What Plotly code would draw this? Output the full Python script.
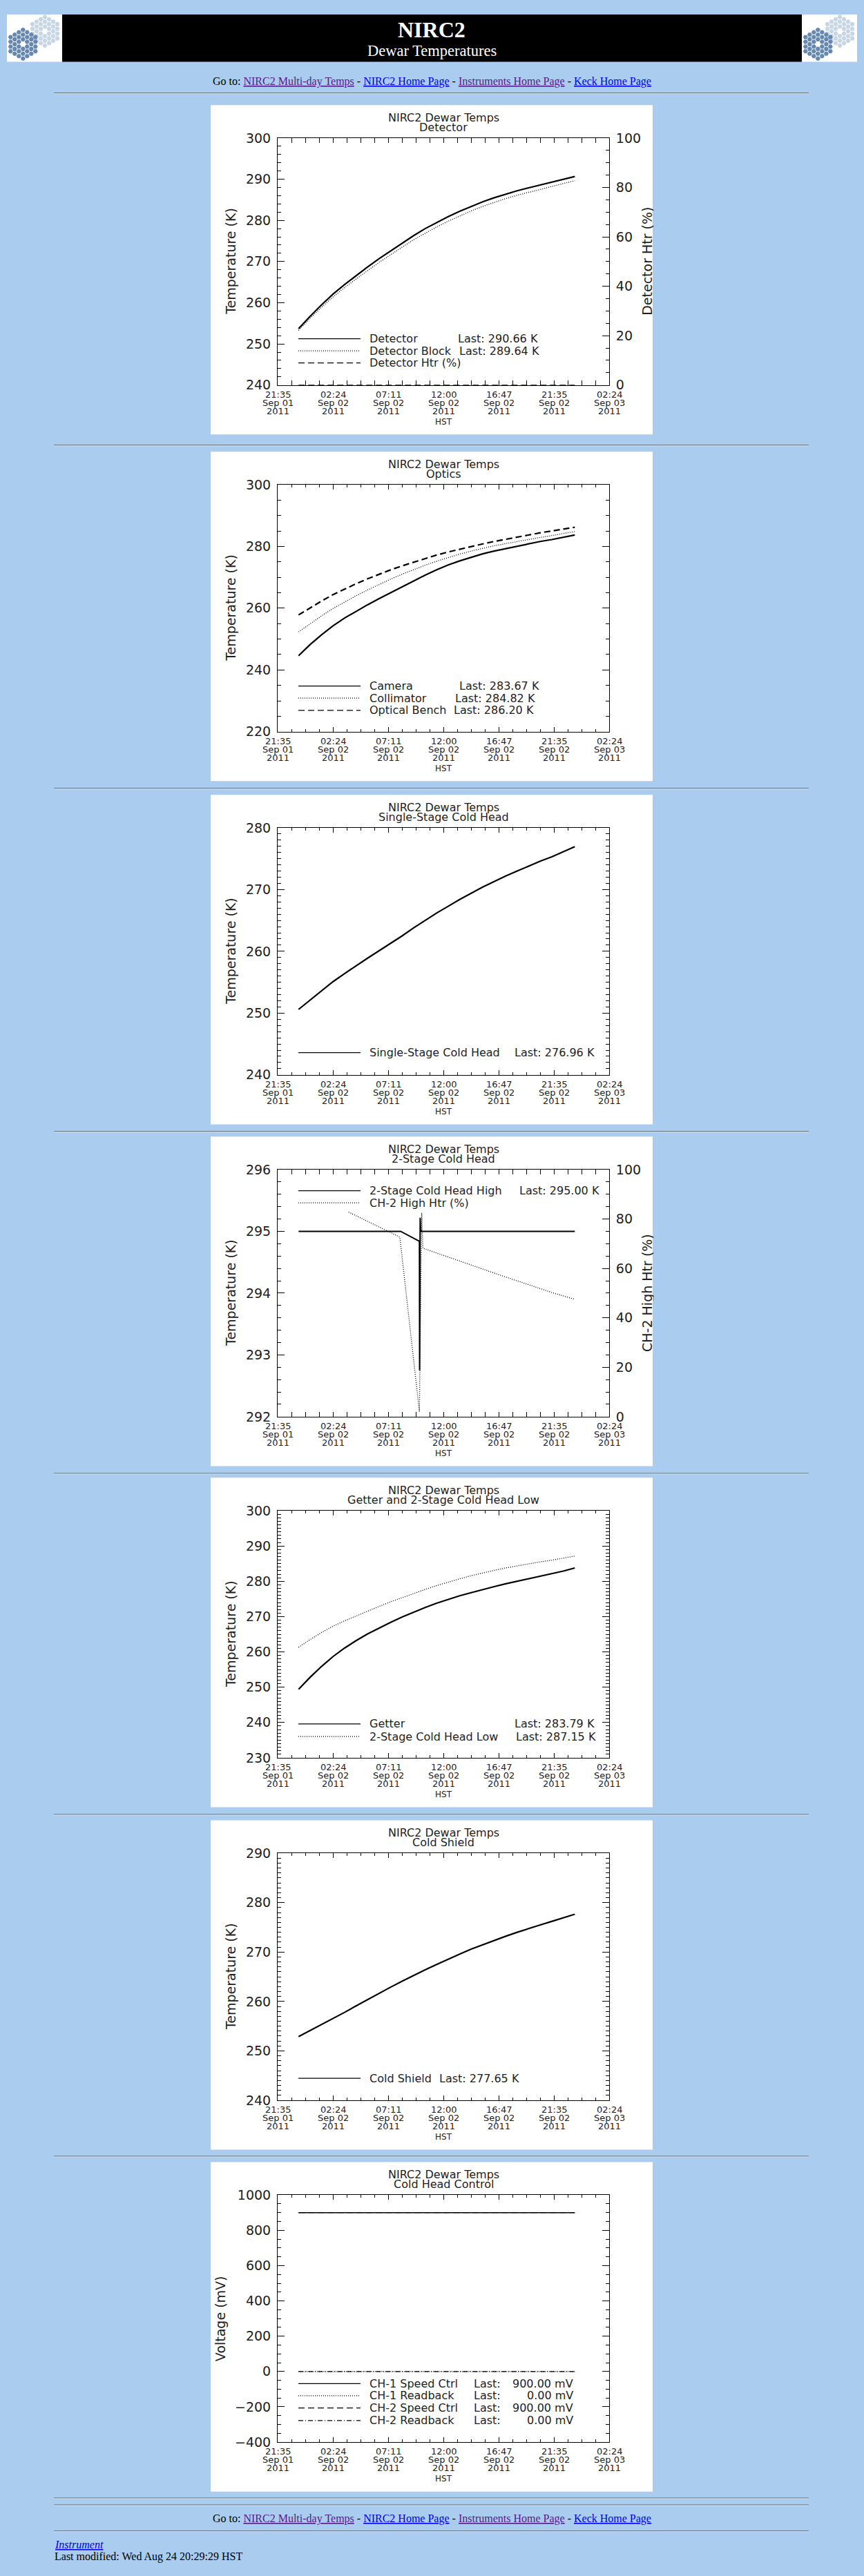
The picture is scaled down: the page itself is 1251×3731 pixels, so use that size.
import math
import plotly.graph_objects as go

W, H = 1251, 3731
PAGE_BG = "#AACCEE"
SANS = "DejaVu Sans"
SERIF = "Liberation Serif"
INK = "#1e1e1e"

# ---------------- data ----------------
TIMES = [
    "2011-09-01 23:24", "2011-09-02 00:24", "2011-09-02 01:24", "2011-09-02 02:24",
    "2011-09-02 03:24", "2011-09-02 04:24", "2011-09-02 05:24", "2011-09-02 06:24",
    "2011-09-02 07:24", "2011-09-02 08:24", "2011-09-02 09:24", "2011-09-02 10:24",
    "2011-09-02 11:24", "2011-09-02 12:24", "2011-09-02 13:24", "2011-09-02 14:24",
    "2011-09-02 15:24", "2011-09-02 16:24", "2011-09-02 17:24", "2011-09-02 18:24",
    "2011-09-02 19:24", "2011-09-02 20:24", "2011-09-02 21:24", "2011-09-02 22:24",
    "2011-09-02 23:24"]
TIMES_ENDS = ["2011-09-01 23:24", "2011-09-02 23:24"]

DETECTOR = [253.7, 256.7, 259.5, 262.1, 264.4, 266.6, 268.7, 270.7, 272.6, 274.5,
            276.3, 278.0, 279.5, 280.9, 282.2, 283.4, 284.5, 285.5, 286.4, 287.2,
            287.9, 288.6, 289.2, 289.9, 290.66]
DETECTOR_BLOCK = [253.3, 256.2, 258.9, 261.4, 263.7, 265.8, 267.8, 269.8, 271.7, 273.5,
                  275.3, 276.9, 278.4, 279.8, 281.1, 282.3, 283.4, 284.4, 285.3, 286.1,
                  286.8, 287.5, 288.2, 288.9, 289.64]
DETECTOR_HTR = [0.0, 0.0]

CAMERA = [244.6, 248.2, 251.4, 254.3, 256.8, 259.0, 261.1, 263.1, 265.0, 267.0,
          268.9, 270.7, 272.4, 274.0, 275.3, 276.5, 277.6, 278.5, 279.3, 280.1,
          280.9, 281.6, 282.2, 282.9, 283.67]
COLLIMATOR = [252.3, 255.0, 257.5, 259.9, 262.0, 264.0, 265.9, 267.7, 269.4, 271.0,
              272.5, 273.9, 275.2, 276.4, 277.5, 278.5, 279.4, 280.2, 280.9, 281.6,
              282.3, 282.9, 283.5, 284.1, 284.82]
OPTICAL_BENCH = [257.8, 260.1, 262.3, 264.4, 266.2, 267.9, 269.5, 271.0, 272.4, 273.7,
                 274.9, 276.1, 277.2, 278.2, 279.1, 280.0, 280.8, 281.6, 282.3, 283.1,
                 283.8, 284.4, 285.0, 285.6, 286.20]

SINGLE_STAGE = [250.6, 252.1, 253.6, 255.1, 256.4, 257.7, 258.9, 260.1, 261.3, 262.5,
                263.8, 265.0, 266.2, 267.3, 268.4, 269.4, 270.4, 271.3, 272.2, 273.0,
                273.8, 274.6, 275.3, 276.1, 276.96]

CH2_HIGH_TIMES = ["2011-09-01 23:24", "2011-09-02 08:16", "2011-09-02 09:54",
                  "2011-09-02 09:55", "2011-09-02 09:57", "2011-09-02 09:58",
                  "2011-09-02 10:00", "2011-09-02 10:04", "2011-09-02 23:24"]
CH2_HIGH = [295.00, 295.00, 294.84, 292.75, 294.62, 295.22, 295.03, 295.00, 295.00]
CH2_HTR_TIMES = ["2011-09-02 03:45", "2011-09-02 06:00", "2011-09-02 08:12",
                 "2011-09-02 09:54", "2011-09-02 10:06", "2011-09-02 10:12",
                 "2011-09-02 12:00", "2011-09-02 16:47", "2011-09-02 21:35",
                 "2011-09-02 23:24"]
CH2_HTR = [82.8, 77.7, 72.7, 2.0, 82.5, 68.2, 65.3, 57.5, 50.0, 47.5]

GETTER = [249.4, 252.8, 255.9, 258.7, 261.1, 263.2, 265.1, 266.8, 268.4, 269.9,
          271.3, 272.6, 273.8, 274.9, 275.9, 276.8, 277.7, 278.5, 279.3, 280.0,
          280.7, 281.4, 282.1, 282.9, 283.79]
CH2_LOW = [261.3, 263.5, 265.5, 267.3, 268.8, 270.2, 271.6, 272.9, 274.2, 275.4,
           276.6, 277.7, 278.8, 279.8, 280.7, 281.6, 282.4, 283.1, 283.8, 284.4,
           285.0, 285.5, 286.0, 286.6, 287.15]

COLD_SHIELD = [252.9, 254.1, 255.3, 256.5, 257.8, 259.1, 260.4, 261.7, 262.9, 264.1,
               265.3, 266.4, 267.5, 268.6, 269.6, 270.6, 271.5, 272.4, 273.2, 274.0,
               274.8, 275.5, 276.2, 276.9, 277.65]

CH1_SPEED = [900.0, 900.0]
CH1_READBACK = [0.0, 0.0]
CH2_SPEED = [900.0, 900.0]
CH2_READBACK = [0.0, 0.0]

X_RANGE = ["2011-09-01 21:35", "2011-09-03 02:23"]
X_TICKS = ["2011-09-01 21:35", "2011-09-02 02:23", "2011-09-02 07:11", "2011-09-02 11:59",
           "2011-09-02 16:47", "2011-09-02 21:35", "2011-09-03 02:23"]
X_TICK_TIME = ["21:35", "02:24", "07:11", "12:00", "16:47", "21:35", "02:24"]
X_TICK_DAY = ["Sep 01", "Sep 02", "Sep 02", "Sep 02", "Sep 02", "Sep 02", "Sep 03"]
X_TICK_YEAR = ["2011", "2011", "2011", "2011", "2011", "2011", "2011"]

# ---------------- styles / layout ----------------
SOLID, DOT, DASH, DASHDOT = "solid", "1px,2px", "9px,5px", "7px,3px,1px,3px"

CHARTS = [
    dict(sub="Detector", ytitle="Temperature (K)", yrange=[240, 300], dtick=10, minor=2,
         right=dict(title="Detector Htr (%)", range=[0, 100], dtick=20, minor=5),
         series=[(TIMES, DETECTOR, SOLID, 2.2, "L"), (TIMES, DETECTOR_BLOCK, DOT, 1.3, "L"),
                 (TIMES_ENDS, DETECTOR_HTR, DASH, 1.5, "R")],
         legend=[("Detector", DETECTOR, " K", 662, 340.5, SOLID),
                 ("Detector Block", DETECTOR_BLOCK, " K", 664, 358, DOT),
                 ("Detector Htr (%)", None, None, None, 375.7, DASH)]),
    dict(sub="Optics", ytitle="Temperature (K)", yrange=[220, 300], dtick=20, minor=5,
         series=[(TIMES, CAMERA, SOLID, 2.2, "L"), (TIMES, COLLIMATOR, DOT, 1.3, "L"),
                 (TIMES, OPTICAL_BENCH, DASH, 2.2, "L")],
         legend=[("Camera", CAMERA, " K", 664, 341.5, SOLID),
                 ("Collimator", COLLIMATOR, " K", 658.5, 359, DOT),
                 ("Optical Bench", OPTICAL_BENCH, " K", 656, 377, DASH)]),
    dict(sub="Single-Stage Cold Head", ytitle="Temperature (K)", yrange=[240, 280], dtick=10, minor=1,
         series=[(TIMES, SINGLE_STAGE, SOLID, 2.2, "L")],
         legend=[("Single-Stage Cold Head", SINGLE_STAGE, " K", 744, 375.7, SOLID)]),
    dict(sub="2-Stage Cold Head", ytitle="Temperature (K)", yrange=[292, 296], dtick=1, minor=0.2,
         right=dict(title="CH-2 High Htr (%)", range=[0, 100], dtick=20, minor=5),
         series=[(CH2_HIGH_TIMES, CH2_HIGH, SOLID, 2.0, "L"), (CH2_HTR_TIMES, CH2_HTR, DOT, 1.3, "R")],
         legend=[("2-Stage Cold Head High", CH2_HIGH, " K", 751, 78.7, SOLID),
                 ("CH-2 High Htr (%)", None, None, None, 96.3, DOT)]),
    dict(sub="Getter and 2-Stage Cold Head Low", ytitle="Temperature (K)", yrange=[230, 300], dtick=10, minor=1,
         series=[(TIMES, GETTER, SOLID, 2.2, "L"), (TIMES, CH2_LOW, DOT, 1.3, "L")],
         legend=[("Getter", GETTER, " K", 744, 358.7, SOLID),
                 ("2-Stage Cold Head Low", CH2_LOW, " K", 746, 377, DOT)]),
    dict(sub="Cold Shield", ytitle="Temperature (K)", yrange=[240, 290], dtick=10, minor=1,
         series=[(TIMES, COLD_SHIELD, SOLID, 2.2, "L")],
         legend=[("Cold Shield", COLD_SHIELD, " K", 635, 376, SOLID)]),
    dict(sub="Cold Head Control", ytitle="Voltage (mV)", yrange=[-400, 1000], dtick=200, minor=50,
         ytitle_x=319,
         series=[(TIMES_ENDS, CH1_SPEED, SOLID, 1.6, "L"), (TIMES_ENDS, CH1_READBACK, DOT, 1.2, "L"),
                 (TIMES_ENDS, CH2_SPEED, DASH, 1.2, "L"), (TIMES_ENDS, CH2_READBACK, DASHDOT, 1.2, "L")],
         legend=[("CH-1 Speed Ctrl", CH1_SPEED, " mV", 685, 322.7, SOLID),
                 ("CH-1 Readback", CH1_READBACK, " mV", 685, 340.3, DOT),
                 ("CH-2 Speed Ctrl", CH2_SPEED, " mV", 685, 358.3, DASH),
                 ("CH-2 Readback", CH2_READBACK, " mV", 685, 376.7, DASHDOT)],
         value_right=831),
]

BOX_TOPS = [142, 647, 1147, 1645, 2142, 2641, 3139]
BOX_L, BOX_R = 305, 945
FR_L, FR_R = 402, 882
RULES = [124, 637, 1137, 1637, 2135, 2632, 3130, 3628, 3638, 3676]


def px(p):
    return p / W


def py(p):
    return 1 - p / H


shapes, annotations = [], []


def rect(x0, y0, x1, y1, color, layer="below"):
    shapes.append(dict(type="rect", xref="paper", yref="paper", x0=px(x0), x1=px(x1),
                       y0=py(y1), y1=py(y0), fillcolor=color, line=dict(width=0), layer=layer))


def text(x, y, s, size, family=SANS, color=INK, xanchor="center", angle=0, xref="paper"):
    annotations.append(dict(xref=xref, yref="paper", x=(px(x) if xref == "paper" else x), y=py(y),
                            text=s, showarrow=False, xanchor=xanchor, yanchor="middle",
                            textangle=angle, borderpad=0,
                            font=dict(family=family, size=size, color=color)))


# ---------------- header ----------------
rect(90, 10, 1161, 79, "black")
for lx in (10, 1161):
    rect(lx, 10, lx + 80, 79, "white")
    for (cx, cy, col) in ((lx + 55, 34.5, "#C8D5E4"), (lx + 23.3, 53.3, "#6688B0")):
        a, s = 4.0, 3.5
        for q in range(-3, 4):
            for r in range(max(-3, -q - 3), min(3, -q + 3) + 1):
                if q == 0 and r == 0:
                    continue
                hx = cx + 1.5 * a * q
                hy = cy + math.sqrt(3) * a * (r + q / 2)
                pts = [(hx + s * math.cos(math.radians(60 * k)), hy + s * math.sin(math.radians(60 * k)))
                       for k in range(6)]
                path = "M" + " L".join(f"{px(u):.6f},{py(v):.6f}" for u, v in pts) + " Z"
                shapes.append(dict(type="path", xref="paper", yref="paper", path=path,
                                   fillcolor=col, line=dict(width=0), layer="below"))

text(625, 32, "<b>NIRC2</b>", 32, SERIF, "white")
text(625, 63, "Dewar Temperatures", 22.5, SERIF, "white")

LINKS = ('Go to: <span style="color:#551A8B"><u>NIRC2 Multi-day Temps</u></span> - '
         '<span style="color:#0000EE"><u>NIRC2 Home Page</u></span> - '
         '<span style="color:#551A8B"><u>Instruments Home Page</u></span> - '
         '<span style="color:#0000EE"><u>Keck Home Page</u></span>')
text(625.5, 107.5, LINKS, 16, SERIF, "black")
text(625.5, 3659, LINKS, 16, SERIF, "black")
text(78, 3696, '<i><u>Instrument</u></i>', 16, SERIF, "#0000EE", xanchor="left")
text(78, 3714, "Last modified: Wed Aug 24 20:29:29 HST", 16, SERIF, "black", xanchor="left")

for ry in RULES:
    rect(78, ry, 1171, ry + 1, "#5c5c5c")
    rect(78, ry + 1, 1171, ry + 2, "#d2dfec")

# ---------------- charts ----------------
fig = go.Figure()
layout = dict(width=W, height=H, margin=dict(l=0, r=0, t=0, b=0, pad=0),
              paper_bgcolor=PAGE_BG, plot_bgcolor="rgba(0,0,0,0)",
              showlegend=False, hovermode=False)

axis_common = dict(showgrid=False, zeroline=False, showline=True, linecolor="black",
                   linewidth=1, ticks="inside", tickcolor="black", tickwidth=1)
next_extra = len(CHARTS) + 1

for i, ch in enumerate(CHARTS):
    n = i + 1
    T = BOX_TOPS[i]
    sx = "" if n == 1 else str(n)
    xname, yname = "xaxis" + sx, "yaxis" + sx
    xref, yref = "x" + sx, "y" + sx

    rect(BOX_L, T, BOX_R, T + 480, "white")

    layout[xname] = dict(axis_common, domain=[px(FR_L), px(FR_R)], anchor=yref, type="date",
                         range=X_RANGE, tickmode="array", tickvals=X_TICKS, showticklabels=False,
                         ticklen=7, mirror="allticks",
                         minor=dict(ticks="inside", ticklen=4, tickcolor="black", tickwidth=1,
                                    tick0=X_RANGE[0], dtick=4320000, showgrid=False))
    has_right = "right" in ch
    layout[yname] = dict(axis_common, domain=[py(T + 408), py(T + 48)], anchor=xref,
                         range=ch["yrange"], tickmode="linear", tick0=ch["yrange"][0],
                         dtick=ch["dtick"], ticklen=10, mirror=(True if has_right else "allticks"),
                         tickfont=dict(family=SANS, size=19, color=INK), ticklabelstandoff=5,
                         minor=dict(ticks="inside", ticklen=5, tickcolor="black", tickwidth=1,
                                    tick0=ch["yrange"][0], dtick=ch["minor"], showgrid=False))
    y2ref = None
    if has_right:
        rt = ch["right"]
        y2name, y2ref = f"yaxis{next_extra}", f"y{next_extra}"
        next_extra += 1
        layout[y2name] = dict(axis_common, overlaying=yref, side="right", anchor=xref,
                              range=rt["range"], tickmode="linear", tick0=rt["range"][0],
                              dtick=rt["dtick"], ticklen=10,
                              tickfont=dict(family=SANS, size=19, color=INK), ticklabelstandoff=5,
                              minor=dict(ticks="inside", ticklen=5, tickcolor="black", tickwidth=1,
                                         tick0=rt["range"][0], dtick=rt["minor"], showgrid=False))

    for (xs, ys, dash, width, side) in ch["series"]:
        fig.add_trace(go.Scatter(x=xs, y=ys, mode="lines", xaxis=xref,
                                 yaxis=(y2ref if side == "R" else yref),
                                 line=dict(color="black", width=width, dash=dash),
                                 hoverinfo="skip", showlegend=False))

    # titles
    text((FR_L + FR_R) / 2, T + 18, "NIRC2 Dewar Temps", 16)
    text((FR_L + FR_R) / 2, T + 32.3, ch["sub"], 16)
    text(ch.get("ytitle_x", 334), T + 228, ch["ytitle"], 19, angle=-90)
    if has_right:
        text(937, T + 228, ch["right"]["title"], 19, angle=-90)
        annotations.append(dict(xref="paper", yref="paper", x=px(945.5), y=py(T + 228),
                                text=" ", showarrow=False, xanchor="left", yanchor="middle",
                                width=16, height=240, bgcolor=PAGE_BG, borderpad=0))

    # x tick labels
    for tv, t1, t2, t3 in zip(X_TICKS, X_TICK_TIME, X_TICK_DAY, X_TICK_YEAR):
        text(tv, T + 421.5, t1, 13, xref=xref)
        text(tv, T + 433.7, t2, 13, xref=xref)
        text(tv, T + 445.5, t3, 13, xref=xref)
    text((FR_L + FR_R) / 2, T + 461.5, "HST", 12)

    # legend
    for (name, arr, unit, last_x, ry, dash) in ch["legend"]:
        shapes.append(dict(type="line", xref="paper", yref="paper", x0=px(432), x1=px(522),
                           y0=py(T + ry), y1=py(T + ry), layer="above",
                           line=dict(color="black", width=1.3, dash=dash)))
        text(534, T + ry, name, 16, xanchor="left")
        if arr is not None:
            if "value_right" in ch:
                text(last_x, T + ry, "Last:", 16, xanchor="left")
                annotations.append(dict(xref="paper", yref="paper", x=px(ch["value_right"]),
                                        y=py(T + ry), text=f"{arr[-1]:.2f}{unit}", showarrow=False,
                                        xanchor="right", yanchor="middle", borderpad=0,
                                        font=dict(family=SANS, size=16, color=INK)))
            else:
                text(last_x, T + ry, f"Last: {arr[-1]:.2f}{unit}", 16, xanchor="left")

layout["shapes"] = shapes
layout["annotations"] = annotations
fig.update_layout(**layout)

fig.write_html("out.html", config={"displayModeBar": False},
               post_script="document.body.style.margin='0';document.body.style.background='#AACCEE';")
